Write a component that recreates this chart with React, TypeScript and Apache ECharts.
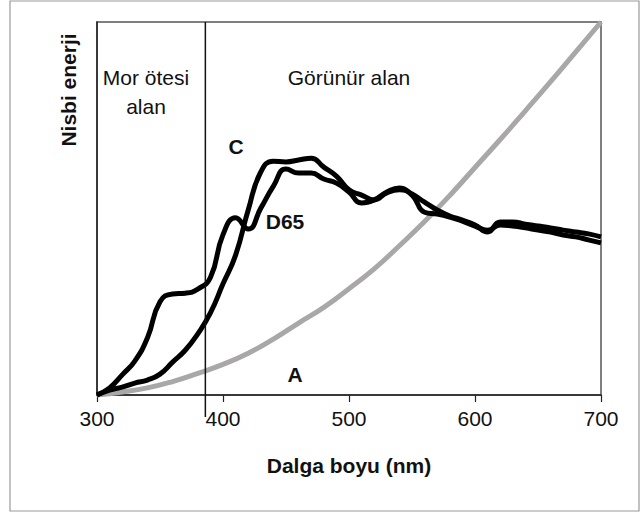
import React, { useEffect, useRef } from "react";
import * as echarts from "echarts";

const wavelengths10 = [300,310,320,330,340,350,360,370,380,390,400,410,420,430,440,450,460,470,480,490,500,510,520,530,540,550,560,570,580,590,600,610,620,630,640,650,660,670,680,690,700];
const d65Values = [0,1.9,5.4,9.1,15.3,25,27.1,27.3,28.4,31.5,43,47.5,44.5,50.1,56,60.6,59.5,59.5,57.9,56.8,54.4,51.5,52.3,54.4,55.5,53.9,51.7,49.6,48,46.9,45.6,43.7,46.4,46.4,45.8,45.3,44.8,44.2,43.7,43.2,42.4];
const cValues = [0,1.3,2.1,3.2,4,5.6,8.8,12,16.4,22,29.8,37.5,49.6,59.8,62.7,62.5,63,63.5,61.1,58.7,55,53.6,52.3,54.2,55,53.6,49,48.5,47.7,46.6,45.3,44.2,45.6,45.3,44.8,44.2,43.7,42.9,42.4,41.6,40.8];
const wavelengths20 = [300,320,340,360,380,400,420,440,460,480,500,520,540,560,580,600,620,640,660,680,700];
const aValues = [0,0.8,1.9,3.6,5.8,8.2,11.2,15,19.3,23.5,28.5,33.8,40,46.5,53.5,61,68.5,76.2,84,92,100];
const xTicks = [300, 400, 500, 600, 700];
const uvBoundary = 386;

const FONT = "'Liberation Sans', Arial, sans-serif";

export default function App() {
  const ref = useRef<HTMLDivElement>(null);
  useEffect(() => {
    if (!ref.current) return;
    const chart = echarts.init(ref.current, undefined, { renderer: "svg" });
    const zip = (xs: number[], ys: number[]) => xs.map((x, i) => [x, ys[i]]);
    chart.setOption({
      animation: false,
      backgroundColor: "#fff",
      grid: { left: 97, top: 22, right: 40, bottom: 120, show: true, borderColor: "#555", borderWidth: 1.5, backgroundColor: "transparent" },
      xAxis: {
        type: "value", min: xTicks[0], max: xTicks[xTicks.length - 1], interval: 100,
        axisLine: { show: true, lineStyle: { color: "#222", width: 1.5 } },
        axisTick: { show: true, length: 7, inside: false, lineStyle: { color: "#222", width: 1.2 } },
        axisLabel: { fontFamily: FONT, fontSize: 21, color: "#111", margin: 13 },
        splitLine: { show: false },
        name: "Dalga boyu (nm)", nameLocation: "middle", nameGap: 60,
        nameTextStyle: { fontFamily: FONT, fontSize: 21, fontWeight: "bold", color: "#111" },
      },
      yAxis: {
        type: "value", min: 0, max: 100,
        axisLine: { show: true, lineStyle: { color: "#222", width: 1.5 } },
        axisTick: { show: false }, axisLabel: { show: false }, splitLine: { show: false },
      },
      series: [
        { type: "line", data: zip(wavelengths20, aValues), smooth: true, showSymbol: false, lineStyle: { color: "#aaa7a9", width: 5 }, z: 2 },
        { type: "line", data: zip(wavelengths10, d65Values), smooth: true, showSymbol: false, lineStyle: { color: "#000", width: 5 }, z: 3 },
        { type: "line", data: zip(wavelengths10, cValues), smooth: true, showSymbol: false, lineStyle: { color: "#000", width: 5 }, z: 3 },
      ],
    });
    const [vx, vTop] = chart.convertToPixel({ gridIndex: 0 }, [uvBoundary, 100]) as number[];
    const [, vBottom] = chart.convertToPixel({ gridIndex: 0 }, [uvBoundary, 0]) as number[];
    const textStyle = (t: string, x: number, y: number, bold = false) => ({
      type: "text", x, y,
      style: { text: t, fontFamily: FONT, fontSize: 21, fontWeight: bold ? "bold" : "normal", fill: "#111", align: "center", verticalAlign: "middle" },
      z: 10,
    });
    chart.setOption({
      graphic: [
        { type: "rect", shape: { x: 10, y: 1, width: 629, height: 510 }, style: { fill: "none", stroke: "#999", lineWidth: 1.2 }, z: 0 },
        { type: "line", shape: { x1: vx, y1: vTop, x2: vx, y2: vBottom + 22 }, style: { stroke: "#111", lineWidth: 1.5 }, z: 9 },
        textStyle("Mor ötesi", 146, 77),
        textStyle("alan", 146, 106),
        textStyle("Görünür alan", 349, 77),
        textStyle("C", 236, 146, true),
        textStyle("D65", 285, 221, true),
        textStyle("A", 295, 374, true),
        {
          type: "text", x: 68, y: 90, rotation: Math.PI / 2,
          style: { text: "Nisbi enerji", fontFamily: FONT, fontSize: 21, fontWeight: "bold", fill: "#111", align: "center", verticalAlign: "middle" },
          z: 10,
        },
      ],
    });
    return () => chart.dispose();
  }, []);
  return <div ref={ref} style={{ position: "fixed", left: 0, top: 0, width: 641, height: 515 }} />;
}
